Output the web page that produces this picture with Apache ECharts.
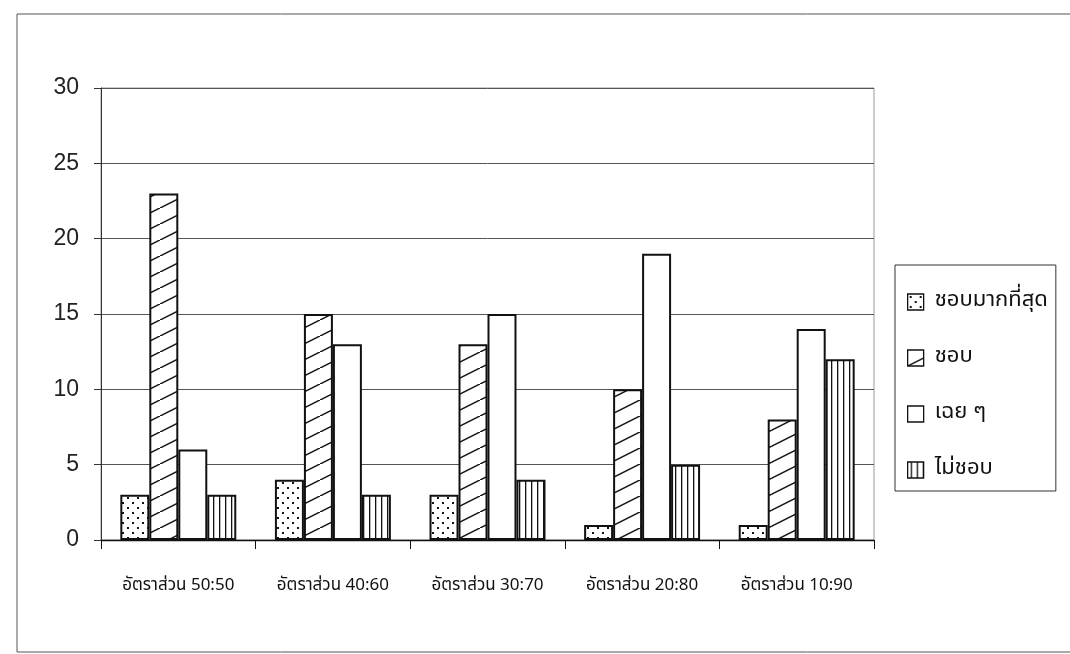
<!DOCTYPE html>
<html><head><meta charset="utf-8">
<script src="https://cdn.jsdelivr.net/npm/echarts@6/dist/echarts.min.js"></script>
<style>html,body{margin:0;padding:0;background:#fff}#c{width:1070px;height:654px}</style>
</head><body><div id="c"></div>
<script>
const categories = ['อัตราส่วน 50:50', 'อัตราส่วน 40:60', 'อัตราส่วน 30:70', 'อัตราส่วน 20:80', 'อัตราส่วน 10:90'];
const seriesNames = ['ชอบมากที่สุด', 'ชอบ', 'เฉย ๆ', 'ไม่ชอบ'];
const likeMost = [3, 4, 3, 1, 1];
const like = [23, 15, 13, 10, 8];
const neutral = [6, 13, 15, 19, 14];
const dislike = [3, 3, 4, 5, 12];
const yMin = 0, yMax = 30, yStep = 5;

function pattern(kind) {
  const c = document.createElement('canvas');
  const x = c.getContext('2d');
  if (kind === 'dots') {
    c.width = 10; c.height = 10;
    x.fillStyle = '#fff'; x.fillRect(0, 0, 10, 10);
    x.fillStyle = '#111';
    x.fillRect(2, 2, 2, 2); x.fillRect(7, 7, 2, 2);
  } else if (kind === 'diag') {
    c.width = 32; c.height = 16;
    x.fillStyle = '#fff'; x.fillRect(0, 0, 32, 16);
    x.strokeStyle = '#111'; x.lineWidth = 1.5;
    x.beginPath(); x.moveTo(0, 16); x.lineTo(32, 0); x.stroke();
  } else if (kind === 'vert') {
    c.width = 6; c.height = 6;
    x.fillStyle = '#fff'; x.fillRect(0, 0, 6, 6);
    x.fillStyle = '#111'; x.fillRect(3, 0, 1.3, 6);
  } else {
    c.width = 4; c.height = 4;
    x.fillStyle = '#fff'; x.fillRect(0, 0, 4, 4);
  }
  return { image: c, repeat: 'repeat' };
}
const fills = [pattern('dots'), pattern('diag'), pattern('plain'), pattern('vert')];
const values = [likeMost, like, neutral, dislike];
const thaiFont = '"Noto Sans Thai", "Noto Sans Thai UI", Loma, Garuda, "DejaVu Sans", sans-serif';

const chart = echarts.init(document.getElementById('c'));
chart.setOption({
  animation: false,
  backgroundColor: '#fff',
  graphic: [{
    type: 'rect', shape: { x: 17, y: 14, width: 1070, height: 638 },
    style: { fill: 'none', stroke: '#555', lineWidth: 1 }, silent: true, z: -1
  }],
  grid: { left: 101, right: 196, top: 88, bottom: 114, show: true, borderColor: '#999', borderWidth: 1 },
  legend: {
    orient: 'vertical', left: 895, top: 265,
    padding: [26, 8, 10, 12], itemGap: 34,
    itemWidth: 16, itemHeight: 16, icon: 'rect',
    borderColor: '#333', borderWidth: 1,
    textStyle: { fontFamily: thaiFont, fontSize: 22, color: '#111', padding: [0, 0, 0, 6] },
    itemStyle: { borderColor: '#111', borderWidth: 1.3 }
  },
  xAxis: {
    type: 'category', data: categories,
    axisLine: { lineStyle: { color: '#111', width: 1.3 } },
    axisTick: { show: true, length: 9, lineStyle: { color: '#111' } },
    axisLabel: { margin: 38, fontFamily: thaiFont, fontSize: 17, color: '#111' }
  },
  yAxis: {
    type: 'value', min: yMin, max: yMax, interval: yStep,
    axisLine: { show: true, lineStyle: { color: '#333', width: 1 } },
    axisTick: { show: true, length: 7, lineStyle: { color: '#333' } },
    axisLabel: { margin: 22, fontFamily: 'Liberation Sans, Arial, sans-serif', fontSize: 23, color: '#222' },
    splitLine: { show: true, lineStyle: { color: '#555', width: 1 } }
  },
  series: seriesNames.map((n, i) => ({
    name: n, type: 'bar', data: values[i],
    barGap: '0%', barCategoryGap: '25%',
    itemStyle: { color: fills[i], borderColor: '#111', borderWidth: 2 }
  }))
});
</script></body></html>
